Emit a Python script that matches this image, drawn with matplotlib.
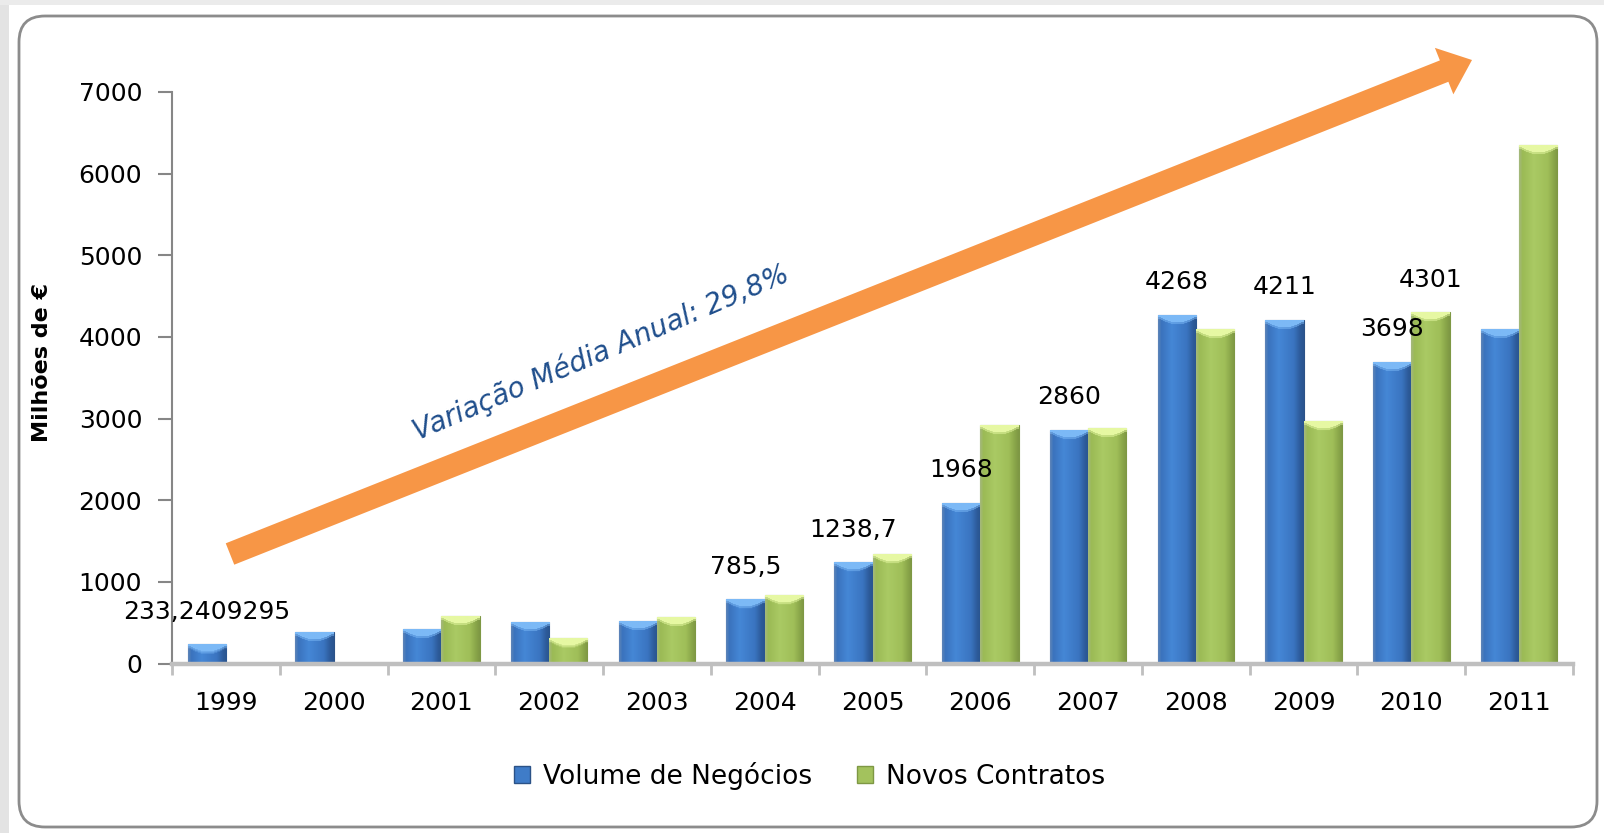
import numpy as np
import matplotlib
matplotlib.use("Agg")
import matplotlib.pyplot as plt
from matplotlib.patches import FancyBboxPatch, FancyArrow, Rectangle, Patch
from matplotlib.colors import to_rgb

# ---------------- data ----------------
years = ['1999', '2000', '2001', '2002', '2003', '2004', '2005',
         '2006', '2007', '2008', '2009', '2010', '2011']
volume_negocios = [233.24, 390, 428, 510, 526, 785.5, 1238.7,
                   1968, 2860, 4268, 4211, 3698, 4100]
novos_contratos = [0, 0, 583, 310, 571, 836, 1338,
                   2920, 2890, 4091, 2970, 4301, 6347]
labels_volume = ['233,2409295', '', '', '', '', '785,5', '1238,7',
                 '1968', '2860', '4268', '4211', '3698', '']
labels_novos = ['', '', '', '', '', '', '', '', '', '', '', '4301', '']
series_names = ['Volume de Negócios', 'Novos Contratos']
y_ticks = [0, 1000, 2000, 3000, 4000, 5000, 6000, 7000]
y_label = 'Milhões de €'
trend_text = 'Variação Média Anual: 29,8%'

# ---------------- figure ----------------
W, H = 1604, 833
fig = plt.figure(figsize=(W / 100, H / 100), dpi=100, facecolor='white')

# background / decoration layer in pixel coordinates
bg = fig.add_axes([0, 0, 1, 1], zorder=0)
bg.set_xlim(0, W)
bg.set_ylim(H, 0)
bg.axis('off')
bg.add_patch(Rectangle((0, 0), 9, H, facecolor='#E3E3E3', edgecolor='none'))
bg.add_patch(Rectangle((0, 0), W, 5, facecolor='#EBEBEB', edgecolor='none'))
bg.add_patch(FancyBboxPatch((19, 16), 1578, 811,
                            boxstyle='round,pad=0,rounding_size=26',
                            facecolor='white', edgecolor='#8C8C8C', lw=2.0))
bg.add_patch(FancyArrow(230, 554, 1242, -494, width=23, head_width=50,
                        head_length=30, length_includes_head=True,
                        facecolor='#F79646', edgecolor='none'))
bg.text(601, 352, trend_text, rotation=23.2, rotation_mode='anchor',
        ha='center', va='center', style='italic', color='#1F4E8C',
        fontsize=20)

# main chart axes
ax = fig.add_axes([172 / W, 169.5 / H, 1401 / W, 571.5 / H], zorder=1)
ax.patch.set_alpha(0)

x = np.arange(len(years))
bw = 0.355
bars_v = ax.bar(x - bw / 2, volume_negocios, bw, color='#3F7CC8',
                edgecolor='#2B5287', linewidth=0.8, zorder=2)
bars_n = ax.bar(x + bw / 2, novos_contratos, bw, color='#A3C25D',
                edgecolor='#7E9844', linewidth=0.8, zorder=2)

ax.set_xlim(-0.5, len(years) - 0.5)
ax.set_ylim(0, 7000)

px_per_unit = 571.5 / 7000.0


def profile(stops, colors, n):
    t = np.linspace(0, 1, n)
    cols = np.array([to_rgb(c) for c in colors])
    return np.stack([np.interp(t, stops, cols[:, k]) for k in range(3)], axis=1)


blue_prof = (
    [0, 0.08, 0.35, 0.75, 0.92, 1.0],
    ['#5B83B8', '#3A73BD', '#4587D6', '#3A74C0', '#2C5A98', '#2A5590'])
green_prof = (
    [0, 0.08, 0.38, 0.75, 0.92, 1.0],
    ['#A4B87A', '#9BBA55', '#AACA64', '#9FBE58', '#87A348', '#7E9844'])


def shade(bars, prof, cap):
    capc = np.array(to_rgb(cap))
    for p in bars:
        h = p.get_height()
        if h <= 0:
            continue
        x0, w = p.get_x(), p.get_width()
        ncol = 40
        row = profile(prof[0], prof[1], ncol)
        nrow = max(int(round(h * px_per_unit)), 2)
        img = np.tile(row[None, :, :], (nrow, 1, 1))
        t = np.linspace(0, 1, ncol)
        depth = 5 + 6 * np.sin(np.pi * t)
        for j in range(ncol):
            d = int(min(depth[j], nrow))
            for r in range(d):
                a = 1.0 if r < d - 2 else 0.5
                img[nrow - 1 - r, j] = a * capc + (1 - a) * img[nrow - 1 - r, j]
        im = ax.imshow(img, extent=[x0, x0 + w, 0, h], origin='lower',
                       aspect='auto', interpolation='bilinear', zorder=2.5)
        im.set_clip_path(p)


shade(bars_v, blue_prof, '#7CB9F6')
shade(bars_n, green_prof, '#E6F8A3')
ax.set_xlim(-0.5, len(years) - 0.5)
ax.set_ylim(0, 7000)
ax.set_aspect('auto')

# data labels
for bars, labs in ((bars_v, labels_volume), (bars_n, labels_novos)):
    for p, lab in zip(bars, labs):
        if lab:
            ax.annotate(lab, (p.get_x() + p.get_width() / 2, p.get_height()),
                        xytext=(0, 23.5), textcoords='offset points',
                        ha='center', va='center', fontsize=18, color='black',
                        zorder=5)

# axes styling
for s in ('top', 'right'):
    ax.spines[s].set_visible(False)
ax.spines['left'].set_color('#868686')
ax.spines['left'].set_linewidth(1.5)
ax.spines['bottom'].set_color('#BFBFBF')
ax.spines['bottom'].set_linewidth(3.2)

ax.set_yticks(y_ticks)
ax.set_yticklabels([str(v) for v in y_ticks])
ax.tick_params(axis='y', length=10, width=1.5, color='#868686', pad=11.5,
               labelsize=18)
ax.set_xticks(x)
ax.set_xticklabels(years)
ax.set_xticks(np.arange(-0.5, len(years)), minor=True)
ax.tick_params(axis='x', which='major', length=0, pad=20, labelsize=18)
ax.tick_params(axis='x', which='minor', length=8, width=2, color='#BFBFBF')

fig.text(42 / W, 1 - 363 / H, y_label, rotation=90, ha='center',
         va='center', fontweight='bold', fontsize=16)

handles = [Patch(facecolor='#3F7CC8', edgecolor='#2B5287'),
           Patch(facecolor='#A3C25D', edgecolor='#7E9844')]
fig.legend(handles, series_names, loc='center', ncol=2,
           bbox_to_anchor=(0.505, 0.0684), frameon=False, fontsize=19,
           handlelength=0.6, handleheight=0.6, handletextpad=0.5,
           columnspacing=1.7)

fig.savefig('out.png', dpi=100, facecolor='white')
